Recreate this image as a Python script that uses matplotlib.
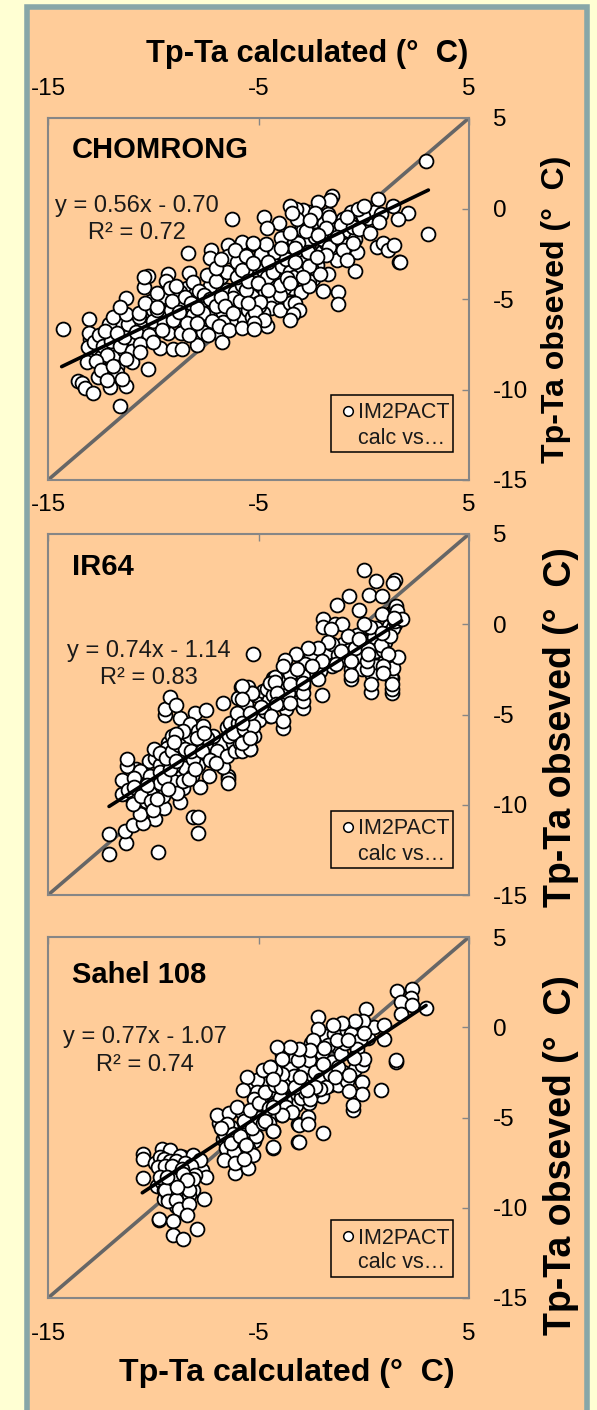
import matplotlib
matplotlib.use('Agg')
import matplotlib.pyplot as plt
from matplotlib.patches import Rectangle
import numpy as np

W, H = 597, 1410

x_ticks = [-15, -5, 5]
y_ticks = [-15, -10, -5, 0, 5]

# points hidden inside the thick part of each cloud, drawn first
chomrong_dense = [
    (-13.0,-7.2),(-12.9,-8.0),(-12.7,-7.7),(-12.5,-8.2),(-12.3,-7.1),(-12.2,-7.7),(-11.9,-7.6),(-11.8,-8.2),(-11.5,-6.4),(-11.4,-7.8),
    (-11.1,-6.9),(-11.0,-6.1),(-10.9,-7.3),(-10.6,-6.5),(-10.4,-6.9),(-10.3,-5.9),(-10.0,-5.6),(-9.9,-6.8),(-9.7,-7.7),(-9.4,-5.7),
    (-9.3,-6.9),(-9.0,-4.8),(-8.7,-5.3),(-8.6,-6.2),(-8.4,-4.4),(-8.1,-5.9),(-8.0,-4.7),(-7.8,-7.0),(-7.7,-5.1),(-7.5,-6.3),
    (-7.3,-4.3),(-7.1,-5.7),(-7.0,-6.8),(-6.8,-3.8),(-6.7,-5.8),(-6.5,-4.5),(-6.3,-6.2),(-6.1,-4.6),(-6.0,-5.5),(-5.8,-4.2),
    (-5.7,-6.1),(-5.5,-3.1),(-5.3,-4.8),(-5.1,-3.6),(-5.0,-2.9),(-4.9,-4.3),(-4.7,-5.2),(-4.5,-2.6),(-4.4,-4.2),(-4.2,-3.1),
    (-4.1,-4.8),(-3.9,-3.7),(-3.8,-2.4),(-3.6,-3.0),(-3.4,-4.4),(-3.3,-1.8),(-3.2,-2.6),(-3.0,-1.2),(-2.9,-2.4),(-2.7,-3.6),
    (-2.6,-1.9),(-2.4,-3.9),(-2.3,-1.6),(-2.2,-3.1),(-2.1,-0.4),(-2.0,-2.4),(-1.8,-1.9),(-1.7,-0.3),(-1.5,-2.0),(-1.3,-0.9),
    (-1.2,-2.3),(-1.0,-0.6),(-0.8,-1.4),(-0.6,-0.2),(-0.4,-1.7),(-0.1,-0.8),(0.2,-0.5),(0.5,-0.2),(0.8,-0.3),(-5.6,-3.4),
]

chomrong = [
    (-14.30,-6.66),(-13.04,-6.12),(-13.04,-6.86),(-13.12,-7.67),(-13.16,-8.46),(-13.56,-9.51),(-13.4,-9.66),(-13.24,-9.94),
    (-12.88,-10.21),(-12.61,-9.29),(-12.37,-8.92),(-12.05,-9.84),(-11.3,-9.81),(-11.56,-10.91),(-10.27,-8.87),(-11.71,-8.74),
    (-11.71,-9.1),(-12.8,-7.4),(-12.6,-7.0),(-12.4,-7.6),(-12.2,-8.1),(-12.0,-7.3),(-12.1,-6.4),(-11.9,-6.0),(-11.6,-7.6),
    (-11.4,-7.1),(-11.2,-6.4),(-11.0,-7.9),(-10.8,-6.8),(-10.7,-6.0),(-11.0,-8.5),(-11.3,-8.3),(-12.7,-8.4),(-12.5,-8.9),
    (-12.2,-9.5),(-11.9,-8.7),(-11.5,-9.4),(-10.2,-7.0),(-10.0,-6.2),(-9.8,-5.6),(-9.5,-6.3),(-10.1,-5.1),(-9.6,-4.9),
    (-12.28,-6.79),(-11.71,-6.86),(-11.3,-5.83),(-11.3,-4.96),(-11.58,-5.42),(-10.66,-5.79),(-10.38,-5.2),(-9.84,-5.46),
    (-10.42,-4.32),(-10.23,-3.73),(-10.42,-3.77),(-9.81,-4.65),(-10.63,-7.49),(-10.63,-7.91),(-9.99,-7.36),(-9.6,-6.71),
    (-9.28,-3.62),(-9.39,-3.99),(-9.2,-4.41),(-8.73,-4.6),(-9.17,-5.61),(-9.05,-6.16),(-9.05,-7.78),(-8.62,-7.78),(-8.68,-6.9),
    (-8.38,-6.34),(-8.3,-3.58),(-8.13,-4.04),(-7.84,-4.56),(-8.35,-2.46),(-7.26,-2.29),(-7.3,-2.75),(-7.46,-3.67),(-7.03,-4.0),
    (-7.62,-5.76),(-7.94,-7.54),(-7.62,-6.84),(-6.75,-7.36),(-6.67,-6.25),(-6.43,-2.02),(-6.43,-2.62),(-6.51,-3.49),(-6.04,-2.94),
    (-6.04,-3.77),(-6.23,-4.96),(-5.77,-1.83),(-5.25,-1.96),(-5.25,-3.03),(-5.09,-4.13),(-5.01,-5.2),(-5.25,-6.62),(-6.27,-0.58),
    (-9.1,-5.1),(-8.9,-4.3),(-8.5,-4.9),(-8.8,-5.7),(-8.2,-5.2),(-7.9,-5.5),(-7.6,-4.8),(-7.3,-5.0),(-7.9,-6.3),(-7.2,-6.2),
    (-7.0,-5.4),(-6.8,-4.9),(-6.6,-5.4),(-6.2,-5.8),(-5.9,-5.1),(-5.6,-4.5),(-5.5,-5.6),(-5.3,-6.0),(-6.9,-6.5),(-7.4,-7.0),
    (-8.3,-7.0),(-6.4,-6.7),(-5.8,-6.6),(-7.0,-3.3),(-6.8,-2.8),(-6.1,-2.3),(-5.6,-2.6),(-5.8,-3.4),(-5.5,-4.0),(-4.9,-2.5),
    (-4.8,-3.4),(-4.6,-3.8),(-4.3,-3.5),(-4.2,-2.4),(-3.9,-3.2),(-3.7,-2.8),(-3.5,-3.5),(-3.3,-3.8),(-3.0,-3.2),(-2.8,-2.9),
    (-2.5,-3.3),(-3.1,-1.9),(-2.9,-1.2),(-2.6,-0.2),(-2.3,-0.7),(-2.9,-0.1),(-3.2,0.0),(-2.0,-1.7),(-1.9,-0.8),(-1.4,-1.4),
    (-1.1,-0.9),(-1.0,-1.9),(-0.5,-1.0),(-0.3,-2.4),(-4.7,-4.6),(-4.3,-5.0),(-4.4,-5.5),(-4.8,-5.8),(-4.0,-5.6),(-3.8,-4.4),
    (-3.5,-5.2),(-3.0,-4.6),(-2.6,-4.0),(-5.0,-5.4),(-5.1,-6.3),(-4.6,-6.5),
    (2.94,2.64),(3.04,-1.43),(2.09,-0.27),(1.64,-0.58),(1.41,0.14),(0.68,0.51),(0.74,-0.76),(-0.05,-0.4),(-0.26,0),(0.01,0.14),
    (-0.21,-1.15),(0.3,-1.33),(0.61,-2.11),(0.9,-1.89),(1.14,-2.29),(1.45,-2.02),(1.69,-2.94),(1.72,-2.97),(-0.41,-3.45),
    (-0.81,-2.02),(-0.81,-0.49),(-1.63,-0.45),(-1.52,0.69),(-1.6,0.47),(-2.16,0.38),(-2.3,-0.27),(-1.79,-1.1),(-1.63,-2.11),
    (-1.29,-2.84),(-1.79,-2.57),(-1.68,-3.64),(-2.08,-3.64),(-1.92,-4.54),(-1.21,-4.63),(-1.21,-5.26),(-2.59,-4.26),(-2.59,-3.18),
    (-2.87,-3.77),(-3.27,-2.16),(-2.74,-1.24),(-3.19,-0.6),(-3.5,0.14),(-3.42,-0.23),(-4.01,-0.78),(-3.93,-1.61),(-3.93,-2.2),
    (-4.74,-0.45),(-4.58,-1.1),(-4.64,-1.96),(-5.25,-1.92),(-5.25,-3.03),(-5.04,-4.13),(-3.98,-4.78),(-3.98,-4.23),(-4.93,-5.15),
    (-3.27,-5.24),(-3.06,-5.61),(-3.34,-5.85),(-3.5,-6.16),(-5.17,-5.7),(-4.74,-6.16),(-5.21,-6.34),(-5.21,-6.68),(-5.48,-5.24),
    (-2.55,-0.64),(-2.16,-1.46),(-2.63,-2.38),(-3.27,-2.94),(-4.53,-2.94),(-3.5,-1.37),(-1.29,-1.56),(-0.97,-2.29),(-0.5,-1.92),
    (-0.81,-2.84),(-2.24,-2.66),(-3.66,-3.86),(-4.53,-4.5),(-3.5,-4.13),
]

ir64_dense = [
    (-11.0,-9.6),(-10.8,-8.0),(-10.5,-8.7),(-10.2,-7.6),(-10.0,-8.6),(-9.9,-7.4),(-9.7,-9.2),(-9.5,-7.9),(-9.3,-6.6),(-9.1,-8.3),
    (-9.0,-9.0),(-8.8,-7.2),(-8.7,-8.2),(-8.5,-6.3),(-8.4,-7.5),(-8.3,-5.8),(-8.2,-7.9),(-8.0,-6.6),(-7.9,-7.2),(-7.7,-6.5),
    (-7.5,-7.2),(-7.3,-6.6),(-7.1,-7.2),(-6.9,-6.5),(-6.7,-6.6),(-6.5,-5.7),(-6.2,-6.6),(-6.0,-6.2),(-5.8,-5.0),(-5.6,-5.2),
    (-5.5,-3.5),(-5.6,-4.4),(-5.4,-5.6),(-5.1,-3.9),(-4.8,-3.7),(-4.6,-4.5),(-4.4,-3.3),(-4.2,-3.4),(-4.0,-3.1),(-3.8,-3.4),
    (-3.7,-4.7),(-3.4,-3.4),(-3.3,-3.9),(-3.1,-3.3),(-2.9,-3.4),(-2.7,-2.7),(-2.4,-1.9),(-2.1,-1.7),(-1.7,-1.8),(-1.3,-1.6),
    (-1.0,-1.1),(-0.7,-1.4),(-0.3,-0.6),(0.0,-1.6),(0.3,-1.9),(0.3,-0.8),(0.6,-0.2),(0.7,-1.9),(1.0,-1.0),(1.2,-0.1),
    (1.35,0.5),(1.5,0.0),(1.6,0.55),(1.35,-3.0),(1.0,-2.0),(-0.2,-1.7),(-4.4,-3.7),(-4.1,-2.9),(-4.4,-4.0),(-3.7,-3.1),
]

ir64 = [
    (-12.1,-11.63),(-12.1,-12.74),(-11.3,-12.1),(-11.34,-11.45),(-10.98,-11.12),(-9.76,-12.61),(-7.89,-11.54),(-8.1,-10.66),
    (-7.86,-10.66),(-6.43,-8.4),(-6.43,-8.6),(-6.43,-8.77),(-6.67,-7.89),(-7.34,-8.4),(-7.78,-8.99),(-8.73,-9.84),(-8.6,-9.05),
    (-9.49,-10.16),(-9.52,-9.51),(-9.92,-10.8),(-10.47,-10.99),(-10.63,-10.53),(-11.5,-9.38),(-11.5,-8.64),(-11.26,-7.85),
    (-11.26,-7.48),(-10.63,-8.13),(-10.71,-8.92),(-10.15,-9.33),(-10.34,-9.79),(-10.95,-9.97),(-9.68,-7.81),(-9.95,-6.93),
    (-9.36,-6.83),(-9.13,-6.19),(-8.73,-5.17),(-9.44,-5.04),(-9.44,-4.71),(-9.2,-4.01),(-8.92,-4.49),(-8.02,-4.89),(-7.51,-4.77),
    (-8.25,-5.54),(-7.86,-5.91),(-8.73,-7.2),(-8.49,-7.94),(-7.86,-7.81),(-9.05,-8.68),(-8.18,-8.4),(-7.46,-6.93),(-6.96,-7.02),
    (-6.51,-7.3),(-6.12,-7.02),(-5.88,-6.56),(-5.4,-6.93),(-5.28,-5.63),(-6.35,-5.45),(-5.96,-5.45),(-6.67,-4.38),(-5.83,-3.45),
    (-5.99,-4.06),(-5.32,-3.79),(-6.04,-4.89),(-7.15,-6.19),(-7.46,-6.28),(-8.41,-6.37),(-9.68,-7.11),(-10.15,-8.4),(-9.68,-8.77),
    (-9.05,-7.85),(-8.89,-9.33),(-8.1,-7.48),(-7.62,-5.63),(-4.3,-3.23),(-4.45,-5.08),(-3.98,-4.34),(-4.22,-4.34),(-4.3,-3.79),
    (-11.2,-9.2),(-10.9,-8.5),(-10.9,-9.0),(-10.6,-9.5),(-10.3,-8.9),(-10.1,-9.8),(-10.0,-10.3),(-9.8,-9.7),(-9.7,-8.2),(-9.5,-8.5),
    (-9.3,-9.1),(-9.2,-8.0),(-9.4,-7.4),(-9.1,-7.0),(-8.9,-7.6),(-8.8,-6.7),(-8.5,-6.9),(-8.6,-8.7),(-8.3,-8.6),(-8.0,-8.0),
    (-8.2,-7.0),(-7.9,-6.3),(-7.7,-7.0),(-7.6,-6.0),(-8.6,-5.9),(-8.9,-6.1),(-9.0,-6.5),(-7.3,-7.5),(-7.0,-7.7),(-6.4,-6.2),
    (-6.2,-6.0),(-5.7,-5.8),(-5.5,-6.4),(-5.8,-7.0),(-5.2,-6.2),(-5.0,-5.3),(-4.7,-4.8),(-4.5,-4.2),(-4.9,-4.6),(-4.6,-3.6),
    (-4.3,-3.0),(-4.1,-3.5),(-3.9,-3.9),(-4.3,-3.9),(-3.6,-2.6),(-3.3,-3.0),(-3.0,-2.9),(-3.2,-3.6),(-3.6,-3.8),(-3.9,-3.2),
    (-4.2,-2.9),(-2.5,-1.7),(-2.8,-2.2),(-2.3,-2.5),(-1.8,-1.6),(-1.5,-1.1),(-1.2,-1.7),(-1.5,-2.3),(-0.9,-1.9),(-0.4,-1.3),
    (-0.1,-0.9),(0.1,-1.0),(0.5,-0.7),(0.6,-1.5),(0.9,-1.4),(1.1,-0.5),(1.4,-0.2),(1.5,0.2),(1.3,0.6),(1.5,0.9),(0.6,-2.3),
    (0.4,-2.8),(1.3,-2.9),(1.4,-2.4),(-0.6,-2.5),(-0.1,-2.5),(-2.4,-2.7),(-2.1,-2.6),
    (0.01,3.01),(0.57,2.4),(1.48,2.45),(1.41,2.27),(0.27,1.6),(0.85,1.57),(-0.7,1.57),(-1.27,1.05),(-0.21,0.79),(1.52,1.02),
    (1.56,0.74),(0.85,0.59),(1.8,0.28),(1.44,0.37),(0.3,-0.13),(0.01,0),(-1.92,0.28),(-1.92,-0.18),(-1.37,0),(-1.05,0),
    (-1.57,-0.28),(-0.73,-0.65),(-0.21,-0.83),(-1.71,-0.96),(-2.16,-1.29),(-2.63,-1.29),(-1.08,-1.48),(-2,-2.03),(-3.22,-1.66),
    (-3.74,-1.98),(-5.28,-1.63),(0.8,-1.16),(0.22,-1.39),(1.64,-1.79),(1.17,-1.66),(1.25,-0.65),(0.85,-0.46),(-0.6,-2.03),
    (0.14,-2.46),(0.14,-2.03),(0.22,-1.66),(-0.62,-3.05),(-0.62,-2.81),(-1.32,-2.22),(0.9,-2.31),(0.9,-2.68),(0.35,-3.75),
    (0.35,-3.33),(1.36,-3.79),(1.36,-3.6),(1.36,-3.29),(-1.97,-3.92),(-2.16,-3.05),(-2.9,-4.62),(-2.9,-4.25),(-2.9,-2.86),
    (-4.45,-3.23),(-4.22,-3.18),(-3.5,-2.77),(-3.5,-3.32),(-4.14,-3.79),(-4.17,-4.43),(-4.42,-5.08),(-3.82,-5.73),(-3.82,-5.36),
    (-3.5,-4.34),(-2.87,-3.79),(-2.47,-2.31),(-5.25,-5.63),(-5.32,-3.79),(-5.8,-3.42),(-5.8,-4.16),(-5.4,-4.89),(-5.4,-6.93),
    (-5.8,-6.56),(-5.4,-6.28),(-5.8,-5.45),(-3.82,-2.31),(-3.18,-2.49),(-2.87,-3.23),
]

sahel_dense = [
    (-9.8,-8.8),(-9.6,-8.6),(-9.5,-9.0),(-9.3,-7.9),(-9.2,-8.4),(-9.1,-7.0),(-8.9,-8.4),(-8.7,-8.5),(-8.6,-7.2),(-8.4,-7.7),
    (-8.2,-8.6),(-7.9,-7.6),(-7.7,-7.9),(-8.1,-9.0),(-9.5,-9.5),(-6.9,-5.3),(-6.7,-6.2),(-6.5,-7.0),(-6.3,-5.5),(-6.0,-6.7),
    (-5.8,-4.7),(-5.6,-6.0),(-5.4,-3.4),(-5.3,-5.3),(-5.2,-6.3),(-5.1,-4.6),(-4.9,-3.2),(-4.8,-4.3),(-4.6,-2.9),(-4.6,-5.0),
    (-4.4,-3.6),(-4.4,-4.9),(-4.1,-2.7),(-4.0,-4.5),(-3.8,-3.5),(-3.7,-2.1),(-3.5,-4.0),(-3.3,-3.0),(-3.2,-4.3),(-3.0,-1.5),
    (-3.0,-2.3),(-2.8,-3.0),(-2.6,-4.2),(-2.5,-0.9),(-2.4,-2.0),(-2.2,-1.0),(-2.2,-2.7),(-2.0,-3.8),(-1.8,-0.5),(-1.7,-2.2),
    (-1.6,-3.2),(-1.4,-0.4),(-1.2,-1.1),(-1.2,-3.2),(-1.0,-2.5),(-0.8,-0.2),(-0.8,-3.0),(-0.5,-0.8),(-0.4,-2.3),(-0.2,0.3),
    (-0.1,-2.1),(0.2,-0.6),(0.5,0.0),(-2.3,-1.6),(-3.4,-1.6),(-3.9,-1.5),(-3.0,-3.5),(-2.6,-2.7),(-4.1,-3.6),(-4.9,-4.9),
]

sahel = [
    (-10.5,-7),(-10.5,-7.28),(-10.5,-8.35),(-9.6,-6.72),(-9.2,-6.78),(-8.73,-7.15),(-8.13,-7.09),(-7.78,-7.33),(-7.49,-8.29),
    (-9.9,-7.5),(-9.7,-7.2),(-9.5,-7.3),(-9.6,-7.9),(-9.4,-8.5),(-9.2,-7.4),(-9.0,-8.1),(-8.9,-7.4),(-8.8,-7.9),(-8.5,-7.5),
    (-8.4,-8.0),(-8.2,-7.7),(-8.0,-8.2),(-9.2,-8.9),(-9.0,-9.2),(-8.7,-9.4),(-8.5,-9.0),(-8.3,-9.3),(-9.3,-9.4),(-8.9,-9.9),
    (-9.76,-7.74),(-9.44,-7.7),(-9.13,-7.7),(-8.65,-7.83),(-9.68,-8.29),(-9.05,-8.44),(-8.1,-8.39),(-9.44,-9),(-8.29,-9.03),
    (-7.59,-9.49),(-9.28,-9.64),(-8.92,-9.59),(-8.78,-10.08),(-8.29,-9.81),(-8.38,-10.38),(-9.73,-10.66),(-9.73,-10.6),(-9.05,-10.75),
    (-7.94,-11.19),(-9.05,-11.49),(-8.57,-11.71),(-8.57,-8.11),(-9.36,-8.29),(-8.41,-8.48),(-8.89,-8.85),
    (-6.99,-4.88),(-6.4,-4.75),(-6.04,-4.42),(-6.51,-5.34),(-6.59,-5.99),(-6.2,-5.93),(-6.54,-6.67),(-6.15,-6.91),(-5.51,-6.69),
    (-5.25,-7.09),(-6.64,-7.37),(-6.12,-8.07),(-5.48,-7.8),(-4.3,-6.67),(-4.3,-5.75),(-5.12,-6.04),(-5.56,-5.43),(-4.72,-5.19),
    (-5.25,-4.6),(-3.9,-4.84),(-5.09,-2.94),(-5.09,-3.58),(-5.2,-3.99),(-5.56,-2.75),(-5.72,-3.49),(-4.42,-2.2),(-4.77,-2.38),
    (-3.9,-2.2),(-3.93,-3.31),(-4.3,-2.85),(-4.3,-4.32),(-3.11,-5.34),(-3.11,-6.35),(-3.35,-3.31),(-3.19,-2.66),(-3.74,-4.05),
    (-6.8,-5.6),(-6.3,-6.4),(-5.9,-6.0),(-5.7,-5.2),(-5.6,-6.5),(-5.3,-5.6),(-5.0,-5.0),(-5.4,-4.6),(-5.0,-4.2),(-4.7,-3.6),
    (-4.5,-4.5),(-4.2,-3.2),(-4.0,-3.9),(-3.7,-3.0),(-3.5,-2.3),(-3.3,-2.7),(-3.0,-3.9),(-2.9,-3.2),(-2.8,-2.2),(-2.6,-1.8),
    (-2.3,-2.5),(-2.1,-2.9),(-2.0,-1.4),(-1.7,-1.0),(-1.5,-1.9),(-1.1,-1.5),(-0.9,-0.9),(-0.6,-0.4),(-0.2,-0.7),(-1.8,-3.3),
    (-3.7,-4.4),(-3.4,-4.7),(-4.8,-5.3),(-4.5,-5.3),(-6.1,-7.5),(-5.7,-7.3),(-3.9,-2.6),(-4.2,-2.4),(-2.4,-3.6),(-2.8,-3.6),
    (-2.1,-3.4),(-1.6,-2.6),(-1.2,-2.2),(-0.3,-1.2),
    (2.96,1.07),(2.28,2.14),(1.59,2.01),(2.23,1.64),(1.75,1.4),(1.75,0.76),(2.28,1.22),(0.11,1.03),(0.96,0.15),(0.96,-0.63),
    (-0.05,0.33),(-0.42,0.33),(0.01,-0.31),(-1.02,0.26),(-1.46,0.11),(-2.16,0.57),(-2.16,-0.07),(-2.43,-0.68),(-1.29,-0.72),
    (-0.73,-0.68),(0.01,-1.74),(-0.45,-1.68),(1.53,-1.92),(1.53,-1.79),(0.8,-3.49),(-0.69,-2.66),(-0.1,-3.03),(-0.1,-3.71),
    (-0.69,-3.55),(-0.53,-4.6),(-0.53,-4.32),(-1.37,-2.75),(-1.95,-2.05),(-1.89,-1.13),(-2.55,-1.28),(-3.11,-1.79),(-3.06,-1.18),
    (-3.5,-1.09),(-4.11,-1.09),(-3.9,-1.74),(-4.45,-2.2),(-3.95,-3.31),(-3.27,-3.31),(-2.32,-3.31),(-2.55,-3.95),(-2.71,-3.49),
    (-3.03,-2.75),(-4.3,-2.84),(-3.9,-4.84),(-4.3,-4.41),(-4.69,-5.19),(-4.3,-5.76),(-4.3,-6.63),(-3.08,-6.35),(-3.08,-5.43),
    (-2.63,-4.97),(-2.67,-5.37),(-1.95,-5.85),
]

panel_names = ['CHOMRONG', 'IR64', 'Sahel 108']
panel_points = [chomrong_dense + chomrong, ir64_dense + ir64, sahel_dense + sahel]
fit_slope = [0.56, 0.74, 0.77]
fit_intercept = [-0.70, -1.14, -1.07]
fit_from = [-14.35, -12.1, -10.52]
fit_to = [3.07, 1.8, 2.96]
equations = ['y = 0.56x - 0.70', 'y = 0.74x - 1.14', 'y = 0.77x - 1.07']
r2_labels = ['R² = 0.72', 'R² = 0.83', 'R² = 0.74']

# pixel layout: (top, bottom) of each plot, left/right are shared
plot_boxes = [(118, 480), (534, 895), (937, 1298)]
plot_left, plot_right = 48, 469
title_pos = [(72, 150), (72, 567), (72, 975)]
eq_pos = [(137, 206), (149, 651), (145, 1037)]
r2_pos = [(137, 233), (149, 678), (145, 1065)]
legend_top = [395, 811, 1220]
ylabel_pos = [(556, 309, 23), (561, 727, 27), (561, 1155, 27)]
tick_side = ['top', 'top', 'bottom']
x_pad = [13, 13, 18]

plt.rcParams['font.family'] = ['Liberation Sans', 'DejaVu Sans']
plt.rcParams['axes.unicode_minus'] = False

fig = plt.figure(figsize=(W / 100, H / 100), dpi=100, facecolor='#FFFFD3')


def fx(px):
    return px / W


def fy(py):
    return 1 - py / H


fig.add_artist(Rectangle((fx(26.5), fy(1430)), (586.5 - 26.5) / W, (1430 - 6.5) / H, transform=fig.transFigure,
                         facecolor='#FFCC99', edgecolor='#87A7A8', linewidth=4, zorder=-1))

for i in range(3):
    top, bottom = plot_boxes[i]
    ax = fig.add_axes([fx(plot_left), fy(bottom), (plot_right - plot_left) / W, (bottom - top) / H])
    ax.set_facecolor('none')
    ax.set_xlim(-15, 5)
    ax.set_ylim(-15, 5)
    for s in ax.spines.values():
        s.set_color('#868686')
        s.set_linewidth(1.5)

    ax.set_xticks(x_ticks)
    ax.set_yticks(y_ticks)
    ax.tick_params(axis='x', direction='in', length=5, width=1, color='#868686', labelsize=17.5, pad=x_pad[i],
                   top=True, bottom=False, labeltop=tick_side[i] == 'top', labelbottom=tick_side[i] == 'bottom')
    ax.tick_params(axis='y', direction='in', length=5, width=1, color='#868686', labelsize=17.5, pad=17,
                   left=False, right=True, labelleft=False, labelright=True)

    ax.plot([-15, 5], [-15, 5], color='#666666', linewidth=2.6, zorder=1, solid_capstyle='butt')

    pts = np.array(panel_points[i])
    ax.scatter(pts[:, 0], pts[:, 1], s=100, facecolor='white', edgecolor='black', linewidth=1.3, zorder=2)

    fit_x = np.array([fit_from[i], fit_to[i]])
    ax.plot(fit_x, fit_slope[i] * fit_x + fit_intercept[i], color='black', linewidth=2.6, zorder=3,
            solid_capstyle='round')

    fig.text(fx(title_pos[i][0]), fy(title_pos[i][1]), panel_names[i], fontsize=21, fontweight='bold',
             ha='left', va='center')
    fig.text(fx(eq_pos[i][0]), fy(eq_pos[i][1]), equations[i], fontsize=17, ha='center', va='center', color='#1a1a1a')
    fig.text(fx(r2_pos[i][0]), fy(r2_pos[i][1]), r2_labels[i], fontsize=17, ha='center', va='center', color='#1a1a1a')

    # legend box, drawn by hand since it sits at a fixed pixel spot
    lt = legend_top[i]
    fig.add_artist(Rectangle((fx(331), fy(lt + 57)), 122 / W, 57 / H, transform=fig.transFigure,
                             facecolor='none', edgecolor='black', linewidth=1.1, zorder=5))
    leg_ax = fig.add_axes([fx(340), fy(lt + 25), 16 / W, 18 / H])
    leg_ax.axis('off')
    leg_ax.set_xlim(-1, 1)
    leg_ax.set_ylim(-1, 1)
    leg_ax.scatter([0], [0], s=48, facecolor='white', edgecolor='black', linewidth=1.1)
    fig.text(fx(358), fy(lt + 18), 'IM2PACT', fontsize=15.5, ha='left', va='center', color='#1a1a1a')
    fig.text(fx(358), fy(lt + 43), 'calc vs…', fontsize=15.5, ha='left', va='center', color='#1a1a1a')

    fig.text(fx(ylabel_pos[i][0]), fy(ylabel_pos[i][1]), 'Tp-Ta obseved (°  C)', fontsize=ylabel_pos[i][2],
             fontweight='bold', rotation=90, ha='center', va='center')

fig.text(fx(307), fy(54), 'Tp-Ta calculated (°  C)', fontsize=22.2, fontweight='bold', ha='center', va='center')
fig.text(fx(287), fy(1373), 'Tp-Ta calculated (°  C)', fontsize=23.1, fontweight='bold', ha='center', va='center')

plt.savefig('out.png', dpi=100)
plt.close()
